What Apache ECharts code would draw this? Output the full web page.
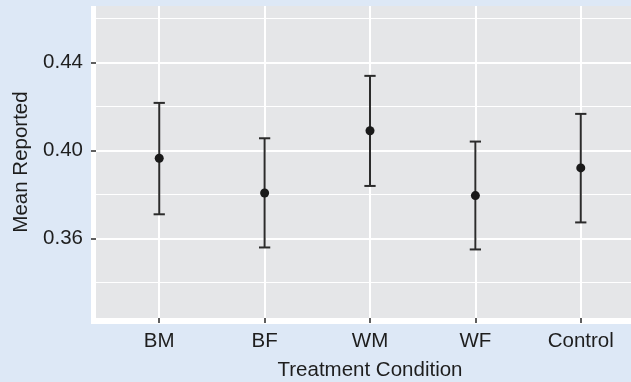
<!DOCTYPE html>
<html>
<head>
<meta charset="utf-8">
<script src="https://cdn.jsdelivr.net/npm/echarts@6/dist/echarts.min.js"></script>
<style>
  html, body { margin: 0; padding: 0; background: #dde8f6; }
  #chart { width: 631px; height: 382px; }
</style>
</head>
<body>
<div id="chart"></div>
<script>
// group labels (drawn at x = 1..5)
var categories = ['BM', 'BF', 'WM', 'WF', 'Control'];
// mean reported and the ends of each error bar
var means = [0.3965, 0.3807, 0.4090, 0.3795, 0.3921];
var lower = [0.3710, 0.3559, 0.3839, 0.3550, 0.3673];
var upper = [0.4217, 0.4056, 0.4340, 0.4041, 0.4167];
// tick values
var majorTicks = [0.36, 0.40, 0.44];
var minorTicks = [0.34, 0.38, 0.42, 0.46];
var xTicks = [1, 2, 3, 4, 5];

var textColor = '#1e1e1e';
var fontFamily = '"Liberation Sans", Arial, Helvetica, sans-serif';

var chart = echarts.init(document.getElementById('chart'));

var pointData = means.map(function (m, i) { return [i + 1, m]; });
var barData = lower.map(function (lo, i) { return [i + 1, lo, upper[i]]; });

function renderErrorBar(params, api) {
  var x = api.value(0);
  var top = api.coord([x, api.value(2)]);
  var bot = api.coord([x, api.value(1)]);
  var half = api.size([0.107, 0])[0] / 2;
  var style = { stroke: '#2b2b2b', lineWidth: 2 };
  return {
    type: 'group',
    children: [
      { type: 'line', shape: { x1: top[0], y1: top[1], x2: bot[0], y2: bot[1] }, style: style },
      { type: 'line', shape: { x1: top[0] - half, y1: top[1], x2: top[0] + half, y2: top[1] }, style: style },
      { type: 'line', shape: { x1: bot[0] - half, y1: bot[1], x2: bot[0] + half, y2: bot[1] }, style: style }
    ]
  };
}

var option = {
  backgroundColor: '#dde8f6',
  animation: false,
  textStyle: { fontFamily: fontFamily },
  grid: [
    // white L-shaped axis strip behind the panel
    { left: 91, top: 6, right: -13, bottom: 58, show: true, backgroundColor: '#ffffff', borderWidth: 0, outerBoundsMode: 'none' },
    // grey plotting panel
    { left: 96, top: 6, right: -13, bottom: 64, show: true, backgroundColor: '#e5e6e8', borderWidth: 0, outerBoundsMode: 'none' }
  ],
  xAxis: [{
    type: 'value',
    gridIndex: 1,
    min: 0.4,
    max: 5.6,
    name: 'Treatment Condition',
    nameLocation: 'middle',
    nameGap: 42,
    nameTextStyle: { color: textColor, fontSize: 20.5, fontFamily: fontFamily },
    axisLine: { show: false },
    axisTick: { show: true, length: 5, customValues: xTicks, lineStyle: { color: '#2b2b2b', width: 1.5 } },
    axisLabel: {
      customValues: xTicks,
      margin: 13,
      color: textColor,
      fontSize: 20.5,
      fontFamily: fontFamily,
      formatter: function (v) { return categories[Math.round(v) - 1] || ''; }
    },
    splitLine: { show: true, lineStyle: { color: '#ffffff', width: 2 } }
  }],
  yAxis: [{
    type: 'value',
    gridIndex: 1,
    position: 'left',
    min: 0.3238,
    max: 0.4658,
    name: 'Mean Reported',
    nameLocation: 'middle',
    nameGap: 62,
    nameTextStyle: { color: textColor, fontSize: 20.5, fontFamily: fontFamily },
    axisLine: { show: false },
    axisTick: { show: true, length: 5, customValues: majorTicks, lineStyle: { color: '#2b2b2b', width: 1.5 } },
    axisLabel: {
      customValues: majorTicks,
      margin: 13,
      color: textColor,
      fontSize: 20.5,
      fontFamily: fontFamily,
      formatter: function (v) { return v.toFixed(2); }
    },
    splitLine: { show: true, lineStyle: { color: '#ffffff', width: 2 } }
  }, {
    type: 'value',
    gridIndex: 1,
    position: 'left',
    min: 0.3238,
    max: 0.4658,
    axisLine: { show: false },
    axisTick: { show: false, customValues: minorTicks },
    axisLabel: { show: false, customValues: minorTicks },
    splitLine: { show: true, lineStyle: { color: '#ffffff', width: 1.1 } }
  }],
  series: [{
    type: 'custom',
    xAxisIndex: 0,
    yAxisIndex: 0,
    renderItem: renderErrorBar,
    data: barData,
    z: 3
  }, {
    type: 'scatter',
    xAxisIndex: 0,
    yAxisIndex: 0,
    symbol: 'circle',
    symbolSize: 9,
    itemStyle: { color: '#1a1a1a', opacity: 1 },
    data: pointData,
    z: 4
  }]
};

chart.setOption(option);
</script>
</body>
</html>
